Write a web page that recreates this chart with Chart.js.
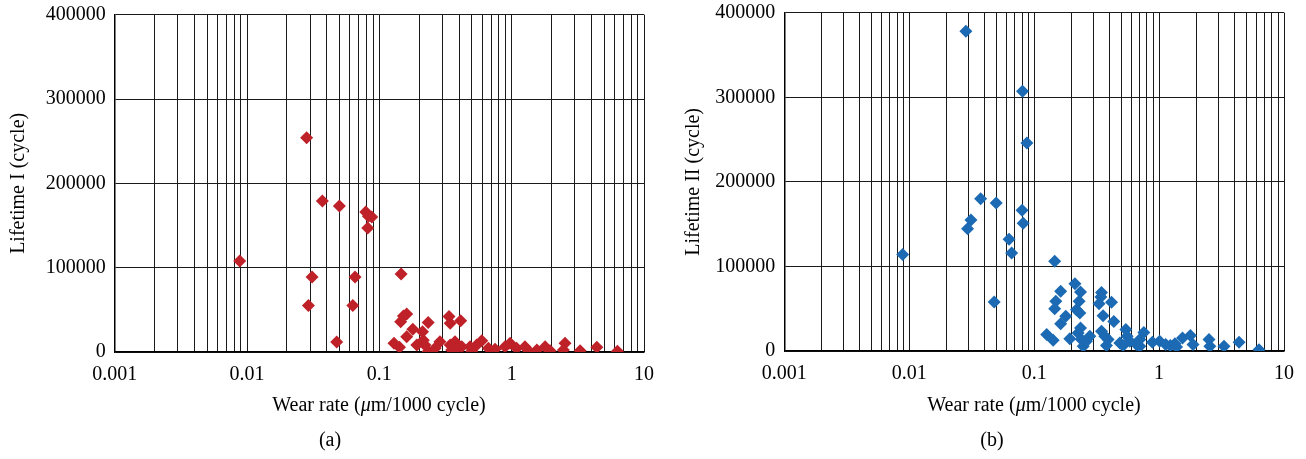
<!DOCTYPE html>
<html>
<head>
<meta charset="utf-8">
<script src="https://cdn.jsdelivr.net/npm/chart.js@4/dist/chart.umd.min.js"></script>
<style>
  body { margin: 0; background: #fff; }
  #wrap { position: relative; width: 1306px; height: 459px; font-family: "Liberation Serif", serif; color: #000; }
  canvas { position: absolute; top: 0; }
  .xtitle, .cap { position: absolute; font-size: 20px; white-space: nowrap; transform: translateX(-50%); }
</style>
</head>
<body>
<div id="wrap">
  <canvas id="chartA" width="660" height="420" style="left:0"></canvas>
  <canvas id="chartB" width="646" height="420" style="left:660px"></canvas>
  <div class="xtitle" style="left:379px; top:393px">Wear rate (<i>μ</i>m/1000 cycle)</div>
  <div class="xtitle" style="left:1034px; top:393px">Wear rate (<i>μ</i>m/1000 cycle)</div>
  <div class="cap" style="left:330px; top:428px">(a)</div>
  <div class="cap" style="left:992px; top:428px">(b)</div>
</div>
<script>
// panel (a): lifetime I
const wearA = [0.0088, 0.0282, 0.0371, 0.0499, 0.0789, 0.0826, 0.0876, 0.0817, 0.031, 0.0291,
  0.0655, 0.063, 0.0476, 0.146, 0.152, 0.145, 0.161, 0.179, 0.161, 0.234,
  0.212, 0.336, 0.343, 0.412, 0.129, 0.142, 0.192, 0.215, 0.221, 0.234,
  0.264, 0.287, 0.343, 0.373, 0.385, 0.352, 0.42, 0.485, 0.499, 0.544,
  0.594, 0.667, 0.749, 0.891, 0.972, 1.09, 1.26, 1.34, 1.55, 1.79,
  1.95, 2.53, 2.46, 3.29, 4.4, 6.3];
const lifeA = [108000, 254000, 179000, 173000, 166000, 161000, 160000, 147000, 89000, 55000,
  89000, 55000, 12000, 92500, 42700, 36000, 45000, 27000, 18000, 35000,
  24000, 42000, 34000, 37000, 10300, 5600, 8300, 14000, 8300, 500,
  4400, 12200, 8300, 12200, 4400, 2400, 6300, 6300, 1000, 8300,
  13400, 4400, 3200, 6300, 10300, 4400, 6300, 1500, 2400, 6300,
  1500, 10300, 2400, 1500, 5600, 800];

// panel (b): lifetime II
const wearB = [0.0284, 0.0807, 0.0875, 0.0373, 0.0497, 0.080, 0.0817, 0.0312, 0.0293, 0.063,
  0.066, 0.00886, 0.146, 0.0479, 0.212, 0.163, 0.235, 0.149, 0.146, 0.229,
  0.218, 0.232, 0.346, 0.342, 0.331, 0.416, 0.356, 0.434, 0.179, 0.163,
  0.235, 0.126, 0.142, 0.193, 0.225, 0.239, 0.247, 0.279, 0.262, 0.346,
  0.368, 0.391, 0.379, 0.485, 0.542, 0.555, 0.515, 0.583, 0.659, 0.701,
  0.755, 0.701, 0.885, 1.01, 1.13, 1.23, 1.34, 1.38, 1.54, 1.78,
  1.87, 2.51, 2.55, 3.31, 4.37, 6.31];
const lifeB = [378000, 307000, 246000, 180000, 175000, 166500, 151000, 155000, 144500, 132000,
  116000, 114000, 106000, 58000, 79600, 70500, 69800, 58700, 50000, 58700,
  48900, 45000, 69300, 63800, 56000, 57500, 41800, 35000, 41000, 32300,
  27300, 19400, 12600, 14600, 21400, 13500, 5500, 17400, 11500, 23300,
  17400, 13500, 6400, 9600, 25300, 17400, 6400, 11500, 7600, 13500,
  22000, 5500, 10300, 11500, 7600, 6400, 8700, 4800, 15500, 18200,
  7600, 13500, 5500, 5500, 10300, 1600];

const xDecades = [0.001, 0.01, 0.1, 1, 10];
const xMinorSteps = [1, 2, 3, 4, 5, 6, 7, 8, 9];
const yTicks = [0, 100000, 200000, 300000, 400000];

const FONT = { family: '"Liberation Serif", serif', size: 20 };

// keep the plot box where the figure has it: no automatic label overflow padding
function noOverflow(scale) {
  scale.paddingTop = 0;
  scale.paddingBottom = 0;
  scale.paddingLeft = 0;
  scale.paddingRight = 0;
}

function makeChart(id, wear, life, color, yLabel, opts) {
  const pts = wear.map((x, i) => ({ x, y: life[i] }));
  return new Chart(document.getElementById(id), {
    type: 'scatter',
    data: {
      datasets: [{
        data: pts,
        pointStyle: 'rectRot',
        pointRadius: 6.5,
        pointBorderWidth: 0,
        backgroundColor: color,
        borderColor: color
      }]
    },
    options: {
      responsive: false,
      animation: false,
      layout: { padding: { top: opts.top, right: opts.right, left: 0, bottom: 0 } },
      plugins: { legend: { display: false }, tooltip: { enabled: false } },
      scales: {
        x: {
          type: 'logarithmic',
          min: xDecades[0],
          max: xDecades[xDecades.length - 1],
          afterBuildTicks: scale => {
            const ticks = [];
            xDecades.forEach((d, i) => {
              if (i === xDecades.length - 1) { ticks.push({ value: d }); return; }
              xMinorSteps.forEach(m => ticks.push({ value: +(d * m).toPrecision(3) }));
            });
            scale.ticks = ticks;
          },
          afterFit: scale => { scale.height = opts.xh; noOverflow(scale); },
          ticks: {
            autoSkip: false,
            maxRotation: 0,
            padding: 11,
            color: '#000',
            font: FONT,
            callback: v => xDecades.includes(v) ? String(v) : ''
          },
          grid: { color: '#1a1a1a', lineWidth: 1, drawTicks: false },
          border: { color: '#000', width: 1.5 }
        },
        y: {
          min: yTicks[0],
          max: yTicks[yTicks.length - 1],
          afterBuildTicks: scale => { scale.ticks = yTicks.map(v => ({ value: v })); },
          afterFit: scale => { scale.width = opts.yw; noOverflow(scale); },
          ticks: { padding: 9, color: '#000', font: FONT, callback: v => String(v) },
          grid: { color: '#1a1a1a', lineWidth: 1, drawTicks: false },
          border: { color: '#000', width: 1.5 },
          title: { display: true, text: yLabel, color: '#000', font: FONT, padding: { top: opts.tp, bottom: 0 } }
        }
      }
    }
  });
}

makeChart('chartA', wearA, lifeA, '#BF2129', 'Lifetime I (cycle)',
  { top: 14.7, right: 16, yw: 114.7, xh: 68, tp: 7 });
makeChart('chartB', wearB, lifeB, '#1B6AB3', 'Lifetime II (cycle)',
  { top: 12.7, right: 22, yw: 124.3, xh: 69, tp: 22 });
</script>
</body>
</html>
